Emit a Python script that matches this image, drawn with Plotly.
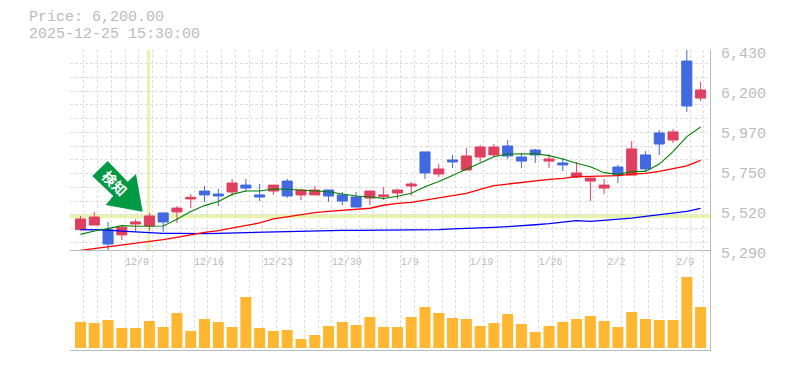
import plotly.graph_objects as go

open_ = [5467,5478,5324,5419,5450,5484,5450,5529,5590,5604,5598,5672,5643,5592,5660,5598,5632,5632,5598,5569,5535,5626,5604,5632,5666,5729,5752,5792,5826,5877,5877,5826,5797,5832,5809,5775,5729,5700,5660,5717,5866,5752,5894,5963,6111,6202]
high = [5484,5507,5450,5432,5465,5501,5507,5541,5609,5655,5638,5695,5695,5666,5660,5695,5638,5655,5632,5621,5621,5626,5649,5638,5678,5849,5780,5832,5871,5889,5894,5917,5843,5866,5837,5814,5792,5700,5695,5775,5911,5854,5974,5980,6430,6248]
low = [5400,5432,5286,5347,5393,5398,5393,5444,5529,5564,5541,5598,5621,5569,5604,5586,5575,5604,5564,5546,5535,5546,5575,5581,5598,5695,5706,5757,5746,5792,5820,5809,5757,5786,5757,5740,5700,5569,5609,5672,5717,5740,5832,5900,6077,6139]
close = [5406,5432,5404,5376,5438,5427,5501,5507,5581,5626,5609,5621,5660,5604,5626,5683,5604,5604,5632,5604,5592,5586,5596,5615,5655,5849,5723,5803,5746,5820,5832,5883,5820,5860,5797,5786,5706,5683,5643,5763,5717,5832,5957,5917,6367,6156]
ma_green = [5379,5398,5412,5429,5425,5427,5427,5465,5509,5543,5566,5607,5626,5626,5638,5636,5632,5628,5622,5609,5598,5592,5584,5596,5613,5651,5680,5714,5750,5790,5822,5837,5839,5839,5828,5809,5784,5765,5731,5721,5737,5738,5780,5851,5936,5991]
ma_red = [5288,5298,5309,5317,5326,5337,5349,5362,5377,5391,5400,5415,5431,5444,5467,5480,5493,5503,5510,5516,5522,5528,5545,5556,5562,5575,5584,5598,5613,5636,5657,5666,5676,5685,5693,5698,5708,5710,5710,5714,5723,5727,5738,5752,5769,5801]
ma_blue = [5406,5406,5404,5398,5393,5387,5385,5385,5383,5383,5385,5387,5391,5394,5394,5396,5398,5400,5402,5402,5402,5402,5402,5402,5402,5404,5406,5410,5412,5413,5419,5423,5427,5434,5440,5448,5457,5453,5459,5465,5472,5482,5490,5499,5510,5527]
volume = [7800,7500,8400,6000,6000,8100,6300,10500,5100,8700,7800,6300,15300,6000,5100,5400,2700,3900,6600,7800,6900,9300,6300,6300,9300,12300,10500,9000,8700,6600,7500,10200,7200,4800,6600,7800,8700,9600,8100,6300,10800,8700,8400,8400,21300,12300]
date_labels = ["12/9","12/16","12/23","12/30","1/9","1/19","1/26","2/2","2/9"]
price_ticks = [6430,6202,5974,5746,5518,5290]
price_tick_text = ["6,430","6,200","5,970","5,750","5,520","5,290"]
title_lines = ["Price: 6,200.00","2025-12-25 15:30:00"]
cross_x = 5
cross_price = 5482

FONT = "Liberation Mono"
GREY = "#bbbbbb"
GRID = "#dddddd"
W, H = 785, 370
L, R, T, B = 70, 710, 50, 350
SPLIT = 250
idx = list(range(len(close)))
px_per = 13.78
x0 = -10.5 / px_per
x1 = x0 + (R - L) / px_per
split_frac = (B - SPLIT) / (B - T)


def pxx(p):
    return (p - L) / (R - L)


def pxy(p):
    return (B - p) / (B - T)


fig = go.Figure()
fig.add_trace(go.Bar(x=idx, y=volume, marker=dict(color="#ffb732", line_width=0), width=0.8, xaxis="x2", yaxis="y2", showlegend=False))
for series, col, wid in [(ma_blue, "#0000ff", 1.3), (ma_red, "#ff0000", 1.3), (ma_green, "#008000", 1.1)]:
    fig.add_trace(go.Scatter(x=idx, y=series, mode="lines", line=dict(color=col, width=wid), showlegend=False))
fig.add_trace(go.Candlestick(
    x=idx, open=open_, high=high, low=low, close=close, whiskerwidth=0, showlegend=False,
    increasing=dict(line=dict(color="#4169e1", width=1), fillcolor="#4169e1"),
    decreasing=dict(line=dict(color="#e0405f", width=1), fillcolor="#e0405f"),
))

# tick labels start at every fifth grid line, so centre each by its text width
label_pos = [x0 + 4 + 5 * i + len(t) * 6 / 2 / px_per for i, t in enumerate(date_labels)]

minor_x = dict(tick0=x0, dtick=1, showgrid=True, gridcolor=GRID, griddash="3px 2px", gridwidth=1, ticklen=0)
fig.update_layout(
    width=W, height=H, margin=dict(l=L, r=W - R, t=T, b=H - B, autoexpand=False),
    paper_bgcolor="white", plot_bgcolor="white", boxgap=0.27, boxgroupgap=0, barmode="overlay", showlegend=False,
    xaxis=dict(range=[x0, x1], anchor="y", rangeslider=dict(visible=False), tickmode="array",
               tickvals=label_pos, ticktext=date_labels, showgrid=False, zeroline=False,
               showline=True, linecolor=GREY, linewidth=1,
               ticks="outside", ticklen=2, tickcolor="rgba(0,0,0,0)",
               tickfont=dict(family=FONT, size=10, color=GREY), minor=minor_x),
    xaxis2=dict(range=[x0, x1], anchor="y2", showticklabels=False, showgrid=False, zeroline=False,
                showline=True, linecolor=GREY, linewidth=1, ticks="", minor=minor_x),
    yaxis=dict(domain=[split_frac, 1], range=[5290, 6430], side="right", anchor="x", tickmode="array",
               tickvals=price_ticks, ticktext=price_tick_text, showgrid=False, zeroline=False,
               showline=True, linecolor=GREY, linewidth=1,
               ticks="outside", ticklen=7, tickcolor="rgba(0,0,0,0)", ticklabelshift=3,
               tickfont=dict(family=FONT, size=15, color=GREY),
               minor=dict(tick0=6430, dtick=78.3, showgrid=True, gridcolor=GRID, griddash="3px 2px", gridwidth=1, ticklen=0)),
    yaxis2=dict(domain=[0, split_frac], range=[-600, 29400], side="right", anchor="x2", showticklabels=False,
                showgrid=False, zeroline=False, showline=True, linecolor=GREY, linewidth=1, ticks=""),
)

fig.add_shape(type="line", xref="x", yref="paper", x0=cross_x - 0.06, x1=cross_x - 0.06, y0=split_frac, y1=1,
              line=dict(color="#e6f5aa", width=3), layer="below")
fig.add_shape(type="line", xref="paper", yref="y", x0=0, x1=1, y0=cross_price, y1=cross_price,
              line=dict(color="#e6f5aa", width=4), layer="below")

arrow_pts = [(142.7, 211.7), (136, 174), (127.7, 181.7), (107.7, 161), (92.3, 176), (113.3, 196), (105.7, 205)]
path = "M " + " L ".join(f"{pxx(a):.5f},{pxy(b):.5f}" for a, b in arrow_pts) + " Z"
fig.add_shape(type="path", xref="paper", yref="paper", path=path, fillcolor="#009944", line_width=0, layer="above")

fig.add_annotation(xref="paper", yref="paper", x=pxx(115), y=pxy(183), text="<b>検知</b>", showarrow=False, textangle=45,
                   font=dict(family="Noto Sans CJK JP", size=14, color="white"), xanchor="center", yanchor="middle")
for text, ypix in zip(title_lines, [17.2, 34.2]):
    fig.add_annotation(xref="paper", yref="paper", x=pxx(27), y=pxy(ypix), text=text, showarrow=False,
                       xanchor="left", yanchor="middle", font=dict(family=FONT, size=15, color=GREY))

fig.write_html("out.html", config=dict(displayModeBar=False),
               post_script="document.body.style.margin='0';document.body.style.overflow='hidden';")
